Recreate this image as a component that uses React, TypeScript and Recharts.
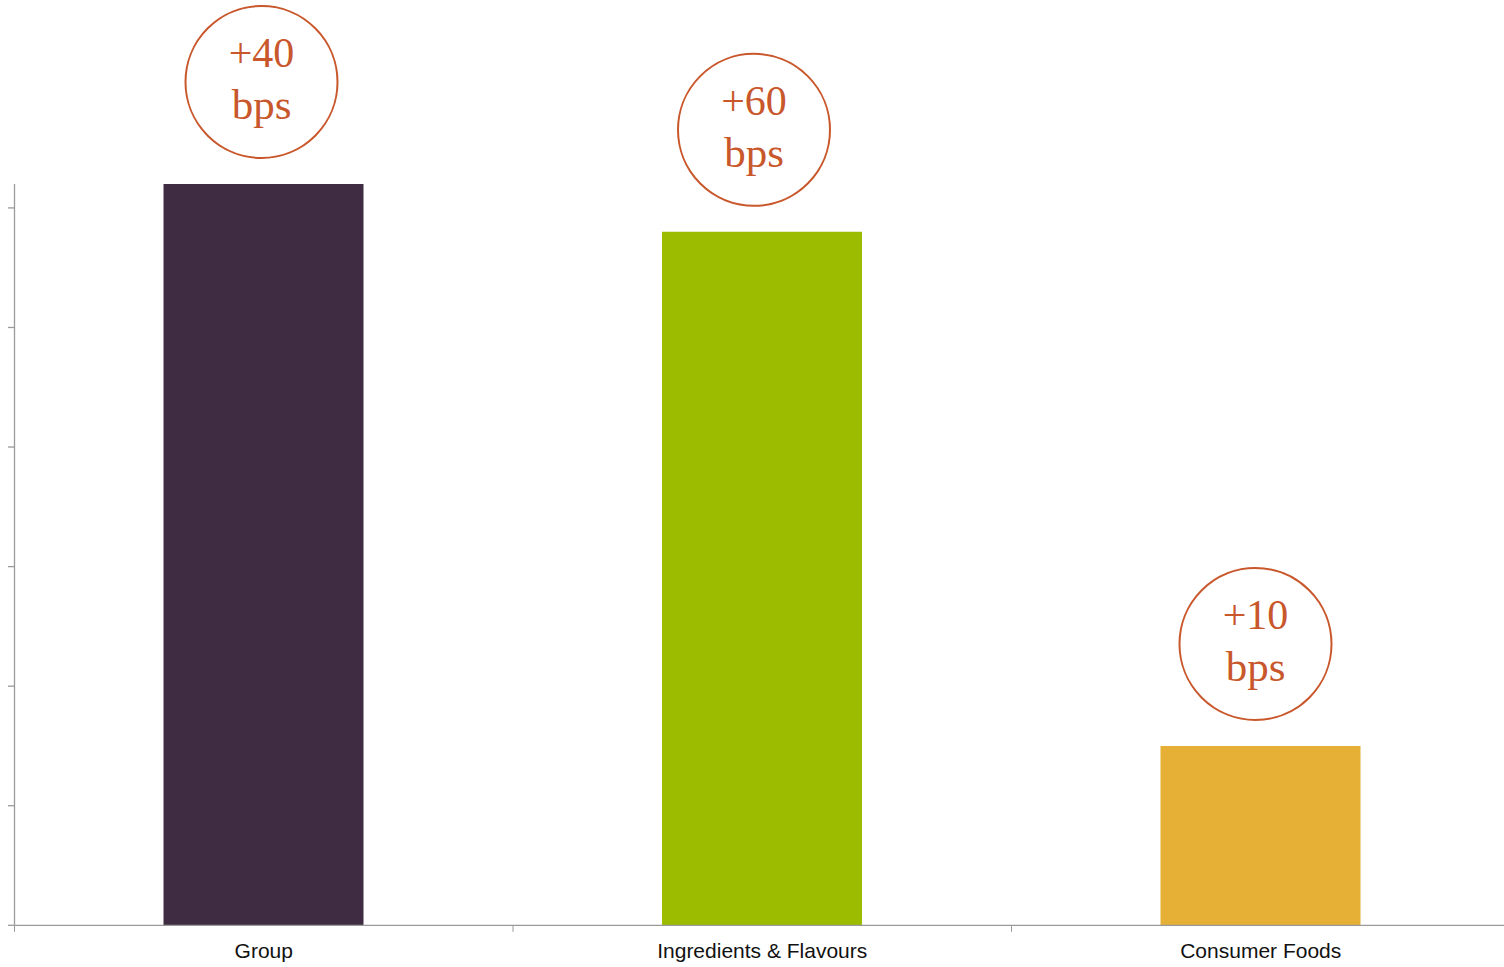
import React from "react";
import { BarChart, Bar, XAxis, YAxis, Cell, LabelList } from "recharts";

const categories = ["Group", "Ingredients & Flavours", "Consumer Foods"];
const values = [12.4, 11.6, 3.0];
const badges = ["+40", "+60", "+10"];
const colors = ["#402C42", "#9CBC00", "#E6B036"];
const yTicks = [0, 2, 4, 6, 8, 10, 12];

const data = categories.map((name, i) => ({ name, value: values[i], badge: badges[i] }));

const CHART_W = 1512;
const CHART_H = 967;
const MARGIN = { top: 184, right: 2, left: 8.5, bottom: 11.7 };
const Y_AXIS_W = 6;
const PLOT_W = CHART_W - MARGIN.left - MARGIN.right - Y_AXIS_W;
const BAND = PLOT_W / categories.length;

const AXIS_COLOR = "#9a9a9a";
const BADGE_COLOR = "#C9572C";

const renderBadge = (props: any) => {
  const { x, y, width, value, index } = props;
  const shift = index === 0 ? -2 : index === 1 ? -8 : -5;
  const cx = Number(x) + Number(width) / 2 + shift;
  const cy = Number(y) - 102;
  return (
    <g>
      <circle cx={cx} cy={cy} r={76} fill="none" stroke={BADGE_COLOR} strokeWidth={2} />
      <text
        x={cx}
        y={cy - 15}
        textAnchor="middle"
        fill={BADGE_COLOR}
        fontFamily="'Liberation Serif', 'DejaVu Serif', serif"
        fontSize={42}
      >
        {value}
      </text>
      <text
        x={cx}
        y={cy + 37}
        textAnchor="middle"
        fill={BADGE_COLOR}
        fontFamily="'Liberation Serif', 'DejaVu Serif', serif"
        fontSize={43}
      >
        bps
      </text>
    </g>
  );
};

const renderXTick = (props: any) => {
  const { x, y, payload } = props;
  const left = Number(x) - BAND / 2;
  const axisY = Number(y) - 18;
  return (
    <g>
      <line x1={left} y1={axisY} x2={left} y2={axisY + 6.5} stroke={AXIS_COLOR} strokeWidth={1} />
      <text
        x={x}
        y={y}
        dy="0.71em"
        textAnchor="middle"
        fill="#111"
        fontFamily="'Liberation Sans', Arial, sans-serif"
        fontSize={21}
      >
        {payload.value}
      </text>
    </g>
  );
};

export default function App() {
  return (
    <div
      style={{
        position: "absolute",
        left: 0,
        top: 0,
        width: 1504,
        height: 967,
        overflow: "hidden",
        background: "#fff",
      }}
    >
      <BarChart width={CHART_W} height={CHART_H} data={data} margin={MARGIN} barCategoryGap={0}>
        <YAxis
          width={Y_AXIS_W}
          domain={[0, 12.4]}
          ticks={yTicks}
          tickSize={6.5}
          tickFormatter={() => ""}
          axisLine={{ stroke: AXIS_COLOR, strokeWidth: 1.3 }}
          tickLine={{ stroke: AXIS_COLOR, strokeWidth: 1.3 }}
          interval={0}
        />
        <XAxis
          dataKey="name"
          height={30}
          tickSize={6}
          tickMargin={12}
          tickLine={false}
          axisLine={{ stroke: AXIS_COLOR, strokeWidth: 1.3 }}
          tick={renderXTick}
          interval={0}
        />
        <Bar dataKey="value" barSize={200} isAnimationActive={false}>
          {data.map((d, i) => (
            <Cell key={d.name} fill={colors[i]} />
          ))}
          <LabelList dataKey="badge" content={renderBadge} />
        </Bar>
      </BarChart>
    </div>
  );
}
